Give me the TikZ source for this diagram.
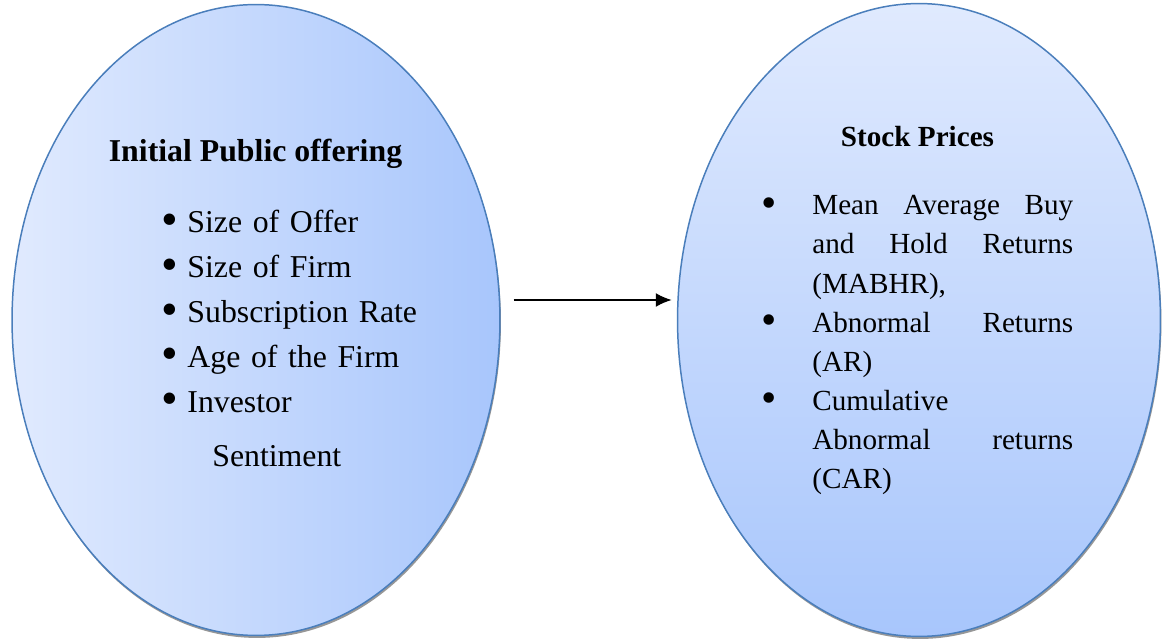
\documentclass[tikz,border=0pt]{standalone}
\usepackage{fontspec}
\setmainfont{Liberation Serif}
\usetikzlibrary{arrows.meta,positioning,shapes.geometric,shadows}
\definecolor{ovlight}{HTML}{E0EAFE}
\definecolor{ovdeep}{HTML}{A8C6FC}
\definecolor{ovedge}{HTML}{4A7EBB}
\newcommand\itemdot{\raisebox{-0.08em}{\scalebox{1.5}{\textbullet}}}

\begin{document}
\begin{tikzpicture}[
    x=0.02cm, y=0.02cm,
    >=Latex,
    oval/.style={
        ellipse,
        draw=ovedge,
        line width=0.85pt,
        inner sep=0pt,
        drop shadow={shadow xshift=0.02cm, shadow yshift=-0.05cm, fill=black!45, opacity=0.9}
    },
    heading/.style={
        font=\bfseries\fontsize{18.1}{22}\selectfont,
        inner sep=0pt
    },
    subheading/.style={
        font=\bfseries\fontsize{16.6}{20}\selectfont,
        inner sep=0pt
    },
    leftlist/.style={
        align=left,
        text width=5.2cm,
        inner sep=0pt,
        font=\fontsize{18.1}{25.5}\selectfont
    },
    rightlist/.style={
        align=justify,
        text width=6.24cm,
        inner sep=0pt,
        font=\fontsize{16.6}{22.2}\selectfont
    },
    flow/.style={
        -{Latex[length=0.32cm,width=0.28cm]},
        line width=1.1pt
    }
]
\useasboundingbox (0,0) rectangle (1163,639);

% the two ovals
\node[oval, left color=ovlight, right color=ovdeep,
      minimum width=9.76cm, minimum height=12.62cm] (ipo) at (256,319) {};
\node[oval, top color=ovlight, bottom color=ovdeep,
      minimum width=9.66cm, minimum height=12.66cm] (stock) at (919,319) {};

% left oval text
\node[heading, anchor=base] (ipotitle) at (255.5,477) {Initial Public offering};
\node[leftlist, anchor=base west] (ipolist) at (161,406)
    {\makebox[0.82em][l]{\itemdot}Size of Offer\\
     \makebox[0.82em][l]{\itemdot}Size of Firm\\
     \makebox[0.82em][l]{\itemdot}Subscription Rate\\
     \makebox[0.82em][l]{\itemdot}Age of the Firm\\
     \makebox[0.82em][l]{\itemdot}Investor};
\node[leftlist, anchor=base west] (sentiment) at (212,172) {Sentiment};

% right oval text
\node[subheading, anchor=base] (stocktitle) at (917.5,492) {Stock Prices};
\node[rightlist, anchor=base west] (stocklist) at (761,424)
    {\leftskip=1.02cm
     \noindent\llap{\makebox[1.02cm][l]{\itemdot}}Mean Average Buy\linebreak
     and Hold Returns\linebreak (MABHR),\par
     \noindent\llap{\makebox[1.02cm][l]{\itemdot}}Abnormal Returns\linebreak (AR)\par
     \noindent\llap{\makebox[1.02cm][l]{\itemdot}}Cumulative\newline
     Abnormal returns\linebreak (CAR)\par};

\draw[flow] ([shift={(13,20)}]ipo.east) -- ([shift={(-5,20)}]stock.west);

\end{tikzpicture}
\end{document}
